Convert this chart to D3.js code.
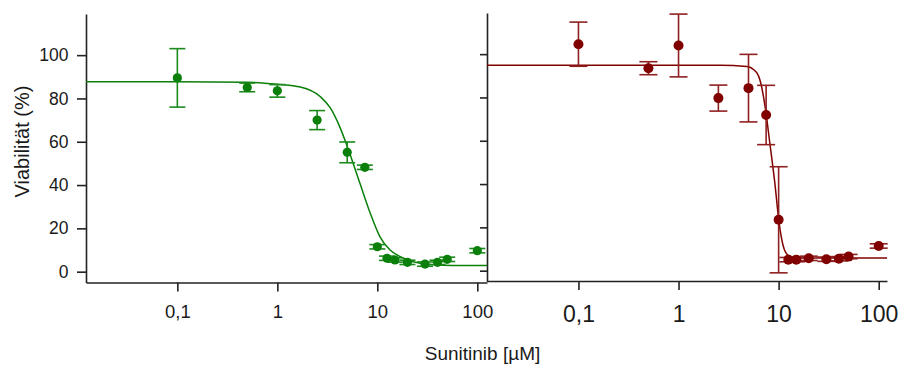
<html>
<head>
<meta charset="utf-8">
<script src="https://d3js.org/d3.v7.min.js"></script>
<style>
  body { margin: 0; background: #fff; }
  text { font-family: "Liberation Sans", Arial, sans-serif; fill: #1a1a1a; }
</style>
</head>
<body>
<script>
  // concentrations (µM), both cell lines
  var conc = [0.1, 0.5, 1, 2.5, 5, 7.5, 10, 12.5, 15, 20, 30, 40, 50, 100];

  // left panel (green)
  var greenViab = [89.5, 85.1, 83.5, 70, 55.1, 48.2, 11.5, 6.2, 5.4, 4.3, 3.5, 4.3, 5.7, 9.7];
  var greenErr = [13.5, 2, 2.9, 4.4, 4.8, 1, 1, 1, 1, 1, 1, 1, 1, 1];
  // fitted curve
  var greenCurveX = [0.0122, 0.1, 0.5, 1, 1.7, 2.7, 3.4, 4.2, 5.3, 6.7, 8.5, 10.6, 13.4, 17, 22, 30, 45, 70, 125];
  var greenCurveY = [87.7, 87.7, 87.5, 86.6, 85.3, 80.8, 75.5, 67, 54.6, 40.8, 27, 16.2, 10, 6.9, 4.8, 3.6, 3.0, 2.8, 2.8];

  // right panel (dark red)
  var redViab = [104.6, 93.5, 104, 79.7, 84.3, 71.9, 23.5, 5.1, 5.1, 5.7, 5.3, 5.5, 6.5, 11.4];
  var redErr = [10.2, 3, 14.5, 6, 15.6, 13.7, 24.5, 1, 1, 1, 1, 1, 1, 1];
  var redCurveX = [0.0122, 1, 2.6, 4.8, 6, 6.6, 7.3, 8.15, 9.15, 10.1, 11.1, 12.4, 15, 30, 121];
  var redCurveY = [94.9, 94.9, 94.9, 94.3, 91.6, 87, 76.2, 59.3, 40.8, 22.3, 11.5, 7.2, 5.9, 5.8, 5.8];

  var xTicks = [0.1, 1, 10, 100];
  var yTicks = [0, 20, 40, 60, 80, 100];

  var svg = d3.select("body")
    .append("svg")
    .attr("width", 901)
    .attr("height", 369);

  var y = d3.scaleLinear().domain([-5, 119]).range([282.5, 14]);
  var xL = d3.scaleLog().domain([0.0122, 125]).range([86, 487]);
  var xR = d3.scaleLog().domain([0.0122, 121]).range([487, 887]);

  var fmt = function (d) { return d === 0.1 ? "0,1" : String(d); };

  function styleAxis(g) {
    g.selectAll("path, line").attr("stroke", "#222").attr("stroke-width", 1.6);
  }

  // left y axis with labels
  svg.append("g")
    .attr("transform", "translate(86,0)")
    .call(d3.axisLeft(y).tickValues(yTicks).tickSize(9).tickPadding(8.5).tickSizeOuter(0))
    .call(styleAxis)
    .selectAll("text").style("font-size", "17.5px").attr("fill", "#1a1a1a");

  // right y axis, ticks only
  svg.append("g")
    .attr("transform", "translate(487,-1)")
    .call(d3.axisLeft(y).tickValues(yTicks).tickSize(7).tickFormat("").tickSizeOuter(0))
    .call(styleAxis);

  // bottom axes
  svg.append("g")
    .attr("transform", "translate(0,282.5)")
    .call(d3.axisBottom(xL).tickValues(xTicks).tickFormat(fmt).tickSize(9).tickPadding(13.5).tickSizeOuter(0))
    .call(styleAxis)
    .selectAll("text").style("font-size", "18.5px").attr("fill", "#1a1a1a");

  svg.append("g")
    .attr("transform", "translate(0,281)")
    .call(d3.axisBottom(xR).tickValues(xTicks).tickFormat(fmt).tickSize(9).tickPadding(15.5).tickSizeOuter(0))
    .call(styleAxis)
    .selectAll("text").style("font-size", "23px").attr("fill", "#1a1a1a");

  // axis titles
  svg.append("text")
    .attr("transform", "translate(29,141.5) rotate(-90)")
    .style("text-anchor", "middle")
    .style("font-size", "20px")
    .text("Viabilität (%)");

  svg.append("text")
    .attr("x", 482.5)
    .attr("y", 360)
    .style("text-anchor", "middle")
    .style("font-size", "19px")
    .text("Sunitinib [µM]");

  function drawPanel(x, viab, err, cx, cy, color, barColor, r, cap, dyOff) {
    var g = svg.append("g").attr("transform", "translate(0," + dyOff + ")");
    var line = d3.line()
      .x(function (d) { return x(d[0]); })
      .y(function (d) { return y(d[1]); })
      .curve(d3.curveMonotoneX);

    g.append("path")
      .datum(d3.zip(cx, cy))
      .attr("d", line)
      .attr("fill", "none")
      .attr("stroke", color)
      .attr("stroke-width", 1.5);

    var pts = d3.zip(conc, viab, err);

    var eb = g.append("g").selectAll("g").data(pts).enter().append("g")
      .attr("stroke", barColor)
      .attr("stroke-width", 1.6);
    eb.append("line")
      .attr("x1", function (d) { return x(d[0]); })
      .attr("x2", function (d) { return x(d[0]); })
      .attr("y1", function (d) { return y(d[1] + d[2]); })
      .attr("y2", function (d) { return y(d[1] - d[2]); });
    eb.append("line")
      .attr("x1", function (d) { return x(d[0]) - cap; })
      .attr("x2", function (d) { return x(d[0]) + cap; })
      .attr("y1", function (d) { return y(d[1] + d[2]); })
      .attr("y2", function (d) { return y(d[1] + d[2]); });
    eb.append("line")
      .attr("x1", function (d) { return x(d[0]) - cap; })
      .attr("x2", function (d) { return x(d[0]) + cap; })
      .attr("y1", function (d) { return y(d[1] - d[2]); })
      .attr("y2", function (d) { return y(d[1] - d[2]); });

    g.append("g").selectAll("circle").data(pts).enter().append("circle")
      .attr("cx", function (d) { return x(d[0]); })
      .attr("cy", function (d) { return y(d[1]); })
      .attr("r", r)
      .attr("fill", color);
  }

  drawPanel(xL, greenViab, greenErr, greenCurveX, greenCurveY, "#0a7f0a", "#1c8a1c", 4.6, 8, 0);
  drawPanel(xR, redViab, redErr, redCurveX, redCurveY, "#800000", "#8f2020", 5, 9, -1);
</script>
</body>
</html>
